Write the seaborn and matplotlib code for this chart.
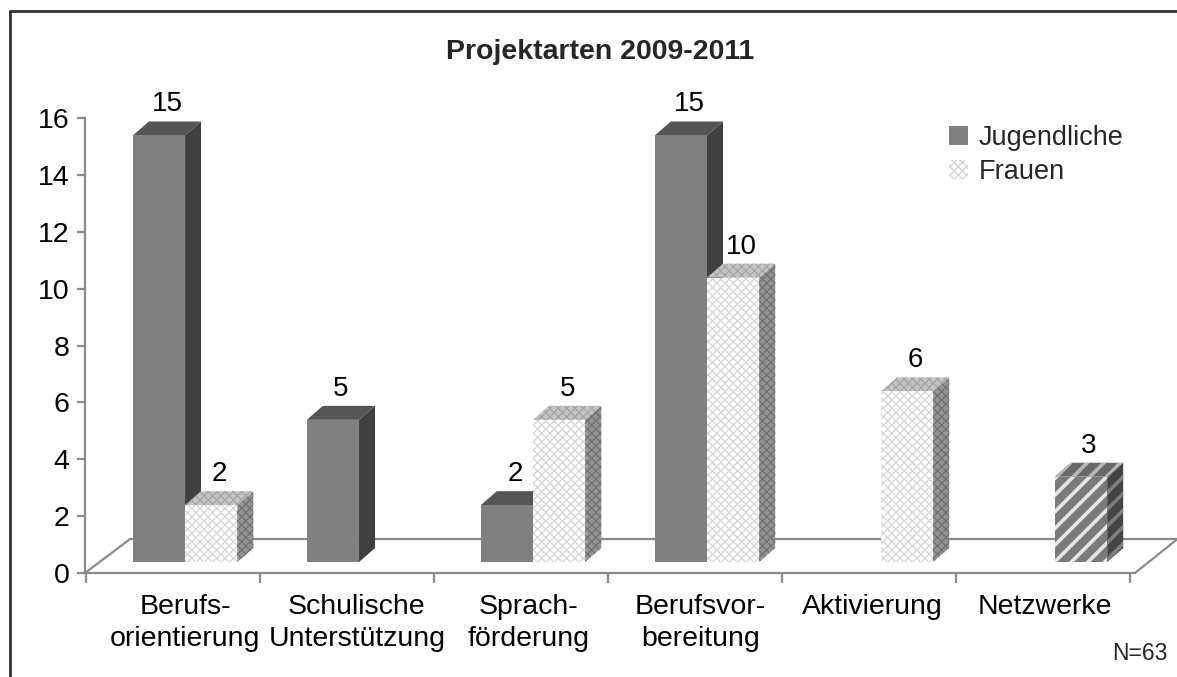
import numpy as np
import pandas as pd
import seaborn as sns
import matplotlib.pyplot as plt
import matplotlib.transforms as mtransforms
from matplotlib.patches import Polygon, Patch
from matplotlib.lines import Line2D

# data
kategorien = ["Berufs-\norientierung", "Schulische\nUnterstützung", "Sprach-\nförderung",
              "Berufsvor-\nbereitung", "Aktivierung", "Netzwerke"]
serien = ["Jugendliche", "Frauen"]
jugendliche = [15, 5, 2, 15, 0, 0]
frauen = [2, 0, 5, 10, 6, 3]

df = pd.DataFrame({
    "Projektart": kategorien * 2,
    "Gruppe": [serien[0]] * len(kategorien) + [serien[1]] * len(kategorien),
    "Anzahl": jugendliche + frauen,
})

sns.set_theme(style="white")
plt.rcParams["font.family"] = ["Liberation Sans", "DejaVu Sans"]

W, H = 1177, 677
fig = plt.figure(figsize=(W / 100, H / 100), dpi=100)
ax = fig.add_axes([85 / W, 1 - 573 / H, 1050 / W, (573 - 118) / H])

sns.barplot(data=df, x="Projektart", y="Anzahl", hue="Gruppe", order=kategorien,
            hue_order=serien, palette=["#808080", "#ffffff"], width=0.6,
            saturation=1, linewidth=0, errorbar=None, legend=False, ax=ax)

x0, x1 = -0.575, 5.46
ax.set_xlim(x0, x1)
ax.set_ylim(0, 16)
ax.set_yticks(range(0, 17, 2))
ax.set_xlabel("")
ax.set_ylabel("")

# 3d look: depth of bars in data units, bars lifted a bit off the floor front
DX, DY = 0.092, 0.49
lift = mtransforms.offset_copy(ax.transData, fig=fig, x=0, y=11, units="dots")

def set_hlw(p, lw):
    if hasattr(p, "set_hatch_linewidth"):
        p.set_hatch_linewidth(lw)

styles = {
    "Jugendliche": dict(front=("#808080", None, "#808080"), side=("#404040", None, "#404040"),
                        top=("#555555", None, "#555555"), hlw=1.0, z=3),
    "Frauen": dict(front=("#ffffff", "xxxx", "#d6d6d6"), side=("#939393", "xxxx", "#707070"),
                   top=("#c4c4c4", "xxxx", "#a4a4a4"), hlw=0.9, z=5),
    "Streifen": dict(front=("#7a7a7a", "//", "#e6e6e6"), side=("#444444", "//", "#7e7e7e"),
                     top=("#686868", "//", "#b8b8b8"), hlw=2.6, z=5),
}

for gruppe, cont in zip(serien, ax.containers):
    for i, p in enumerate(cont.patches):
        h = p.get_height()
        key = "Streifen" if (gruppe == "Frauen" and i == len(kategorien) - 1) else gruppe
        st = styles[key]
        p.set_transform(lift)
        p.set_clip_on(False)
        if h <= 0:
            p.set_visible(False)
            continue
        fc, hatch, hc = st["front"]
        p.set_facecolor(fc)
        p.set_edgecolor(hc)
        p.set_hatch(hatch)
        p.set_linewidth(0)
        set_hlw(p, st["hlw"])
        p.set_zorder(st["z"] + 1)
        bx0 = p.get_x()
        bx1 = bx0 + p.get_width()
        side = [(bx1, 0), (bx1 + DX, DY), (bx1 + DX, h + DY), (bx1, h)]
        top = [(bx0, h), (bx1, h), (bx1 + DX, h + DY), (bx0 + DX, h + DY)]
        for pts, part in ((side, "side"), (top, "top")):
            fc, hatch, hc = st[part]
            poly = Polygon(pts, closed=True, facecolor=fc, edgecolor=hc, hatch=hatch,
                           linewidth=0, transform=lift, clip_on=False, zorder=st["z"])
            set_hlw(poly, st["hlw"])
            ax.add_patch(poly)
        ax.annotate(f"{h:g}", xy=(bx0 + (bx1 - bx0) / 2 + DX / 2, h + DY), xycoords=lift,
                    xytext=(0, 3), textcoords="offset points", ha="center", va="bottom",
                    fontsize=20, color="black", zorder=10, annotation_clip=False)

# floor
grau = "#8a8a8a"
FB = 1.2
floor_kw = dict(color=grau, lw=1.6, clip_on=False, zorder=1)
ax.plot([x0 + 0.26, x1 + 0.245], [FB, FB], **floor_kw)
ax.plot([x0, x0 + 0.26], [0, FB], **floor_kw)
ax.plot([x1, x1 + 0.245], [0, FB], **floor_kw)

# axes styling
for s in ["top", "right"]:
    ax.spines[s].set_visible(False)
for s in ["left", "bottom"]:
    ax.spines[s].set_color(grau)
    ax.spines[s].set_linewidth(1.6)
ax.tick_params(axis="y", which="major", direction="out", length=6, width=1.6,
               color=grau, labelsize=20.5, labelcolor="black", pad=5, left=True)
# labels sit slightly left of the bar groups, as in the original perspective
ax.set_xticks(np.arange(len(kategorien)) * 0.988, labels=kategorien)
ax.tick_params(axis="x", which="major", length=0, labelsize=20.5, labelcolor="black", pad=15)
ax.set_xticks(np.arange(len(kategorien) + 1) - 0.57, minor=True)
ax.tick_params(axis="x", which="minor", direction="out", length=7, width=1.6,
               color=grau, bottom=True)
for lab in ax.get_xticklabels():
    lab.set_linespacing(1.3)

# legend
handles = [Patch(facecolor="#808080", edgecolor="#808080", linewidth=0),
           Patch(facecolor="#ffffff", edgecolor="#d6d6d6", hatch="xxxx", linewidth=0)]
fig.legend(handles, serien, loc="upper left", bbox_to_anchor=(938 / W, 1 - 114 / H),
           frameon=False, fontsize=19.5, handlelength=0.7, handleheight=0.7,
           handletextpad=0.4, labelspacing=0.3, borderaxespad=0)

fig.text(600 / W, 1 - 52 / H, "Projektarten 2009-2011", ha="center", va="center",
         fontsize=20.5, fontweight="bold")
fig.text(1168 / W, 1 - 654 / H, "N=63", ha="right", va="center", fontsize=16.5)

# outer frame
rahmen = dict(color="#333333", lw=2, transform=fig.transFigure)
fig.add_artist(Line2D([10 / W, 10 / W], [0, 1 - 11 / H], **rahmen))
fig.add_artist(Line2D([10 / W, 1], [1 - 11 / H, 1 - 11 / H], **rahmen))

fig.savefig("out.png", dpi=100)
